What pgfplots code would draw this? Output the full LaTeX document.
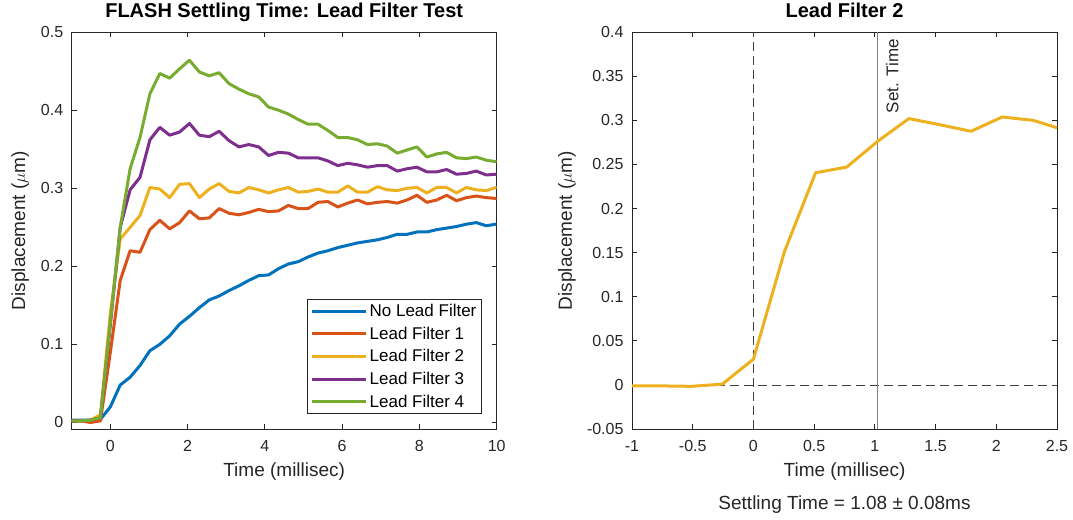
\documentclass[border=0pt]{standalone}
\usepackage{pgfplots}
\pgfplotsset{compat=1.18}
\usepackage{pgfplotstable}
\usepackage{fontspec}
\setmainfont{Liberation Sans}
\definecolor{mblue}{rgb}{0,0.447,0.741}
\definecolor{mred}{rgb}{0.85,0.325,0.098}
\definecolor{myellow}{rgb}{0.929,0.694,0.125}
\definecolor{mpurple}{rgb}{0.494,0.184,0.556}
\definecolor{mgreen}{rgb}{0.466,0.674,0.188}
\definecolor{axgray}{rgb}{0.15,0.15,0.15}

\pgfplotstableread{
t      nolead  f1     f2     f3     f4
-1.024 0.003   0.002  0.002  0.002  0.002
-0.768 0.003   0.002  0.002  0.002  0.002
-0.512 0.003   0.000  0.003  0.003  0.003
-0.256 0.004   0.002  0.010  0.006  0.006
0      0.020   0.090  0.140  0.125  0.128
0.256  0.048   0.182  0.235  0.250  0.250
0.512  0.058   0.220  0.250  0.298  0.325
0.768  0.073   0.218  0.265  0.314  0.365
1.024  0.092   0.247  0.301  0.362  0.421
1.28   0.100   0.259  0.299  0.378  0.447
1.536  0.111   0.248  0.288  0.368  0.441
1.792  0.126   0.256  0.305  0.372  0.453
2.048  0.136   0.271  0.306  0.383  0.464
2.304  0.147   0.261  0.288  0.368  0.449
2.56   0.157   0.262  0.299  0.366  0.444
2.816  0.162   0.274  0.306  0.373  0.448
3.072  0.169   0.268  0.296  0.361  0.434
3.328  0.175   0.266  0.294  0.353  0.427
3.584  0.182   0.269  0.301  0.356  0.421
3.84   0.188   0.273  0.298  0.353  0.417
4.096  0.189   0.270  0.294  0.342  0.404
4.352  0.197   0.271  0.298  0.346  0.400
4.608  0.203   0.278  0.301  0.345  0.395
4.864  0.206   0.274  0.295  0.339  0.388
5.12   0.212   0.274  0.296  0.339  0.382
5.376  0.217   0.282  0.299  0.339  0.382
5.632  0.220   0.283  0.295  0.335  0.374
5.888  0.224   0.276  0.295  0.329  0.365
6.144  0.227   0.281  0.303  0.332  0.365
6.4    0.230   0.285  0.295  0.330  0.362
6.656  0.232   0.280  0.295  0.327  0.356
6.912  0.234   0.282  0.302  0.329  0.357
7.168  0.237   0.283  0.298  0.329  0.354
7.424  0.241   0.281  0.297  0.322  0.345
7.68   0.241   0.285  0.300  0.325  0.349
7.936  0.244   0.291  0.301  0.327  0.353
8.192  0.244   0.282  0.294  0.321  0.340
8.448  0.247   0.285  0.301  0.321  0.344
8.704  0.249   0.291  0.301  0.324  0.346
8.96   0.251   0.284  0.294  0.318  0.339
9.216  0.254   0.288  0.301  0.319  0.338
9.472  0.256   0.290  0.298  0.322  0.340
9.728  0.252   0.288  0.297  0.317  0.336
9.984  0.254   0.287  0.301  0.318  0.334
10.24  0.255   0.287  0.300  0.318  0.333
}\leftdata

\pgfplotstableread{
t      y
-1.024 -0.001
-0.768 -0.001
-0.512 -0.0015
-0.256 0.001
0      0.0293
0.256  0.1515
0.512  0.2406
0.768  0.247
1.024  0.2763
1.28   0.302
1.536  0.295
1.792  0.2876
2.048  0.3038
2.304  0.300
2.56   0.289
}\rightdata

\pgfplotsset{mystyle/.style={
  scale only axis, width=425pt, height=397pt,
  axis line style={draw=axgray, line width=0.8pt},
  tick align=inside, major tick length=5pt,
  tick style={draw=axgray, line width=0.8pt},
  tick label style={font=\fontsize{16}{19}\selectfont, text=axgray},
  label style={font=\fontsize{19}{23}\selectfont, text=axgray},
  title style={font=\bfseries\fontsize{20}{24}\selectfont, text=black,
    at={(0.5,1)}, anchor=base, yshift=8.3pt},
  /pgf/number format/assume math mode=true,
  scaled ticks=false,
  yticklabel style={/pgf/number format/fixed, /pgf/number format/precision=2, xshift=-5pt},
  xticklabel style={/pgf/number format/fixed, /pgf/number format/precision=2, yshift=-8pt},
  xlabel style={at={(axis description cs:0.5,0)}, anchor=north, inner sep=0pt, yshift=-33.5pt},
  every axis plot/.append style={line width=3pt, line join=round},
}}

\begin{document}
\begin{tikzpicture}[x=1pt,y=1pt]
\path (0,0) rectangle (1073,519);
\begin{axis}[mystyle,
  at={(71.7pt,90.7pt)}, anchor=south west,
  xmin=-1, xmax=10, ymin=-0.0085, ymax=0.5,
  xtick={0,2,4,6,8,10}, ytick={0,0.1,0.2,0.3,0.4,0.5},
  title={FLASH Settling Time: Lead Filter Test},
  xlabel={Time (millisec)},
  ylabel={Displacement ($\mu$m)},
  ylabel style={at={(axis description cs:-0.0998,0.5)}, anchor=south, inner sep=0pt},
  legend cell align=left,
  legend image code/.code={\draw[#1, line width=3pt] (0pt,0pt) -- (54pt,0pt);},
  legend style={at={(0.965,0.038)}, anchor=south east, draw=axgray, line width=0.8pt,
    font=\fontsize{17}{20}\selectfont, row sep=4.8pt, inner sep=3pt},
]
\addplot[mblue] table[x=t,y=nolead] {\leftdata};
\addlegendentry{No Lead Filter}
\addplot[mred] table[x=t,y=f1] {\leftdata};
\addlegendentry{Lead Filter 1}
\addplot[myellow] table[x=t,y=f2] {\leftdata};
\addlegendentry{Lead Filter 2}
\addplot[mpurple] table[x=t,y=f3] {\leftdata};
\addlegendentry{Lead Filter 3}
\addplot[mgreen] table[x=t,y=f4] {\leftdata};
\addlegendentry{Lead Filter 4}
\end{axis}

\begin{axis}[mystyle,
  at={(632pt,90.7pt)}, anchor=south west,
  xmin=-1, xmax=2.5, ymin=-0.05, ymax=0.4,
  xtick={-1,-0.5,0,0.5,1,1.5,2,2.5},
  ytick={-0.05,0,0.05,0.1,0.15,0.2,0.25,0.3,0.35,0.4},
  title={Lead Filter 2},
  xlabel={Time (millisec)\\[10pt]Settling Time = 1.08 ± 0.08ms},
  xlabel style={align=center},
  ylabel={Displacement ($\mu$m)},
  ylabel style={at={(axis description cs:-0.1318,0.5)}, anchor=south, inner sep=0pt},
]
\addplot[black!75, line width=0.8pt, dash pattern=on 9pt off 5pt] coordinates {(-1,0) (2.5,0)};
\addplot[black!75, line width=0.8pt, dash pattern=on 9pt off 5pt] coordinates {(0,-0.05) (0,0.4)};
\addplot[black!50, line width=1.2pt] coordinates {(1.024,-0.05) (1.024,0.4)};
\addplot[myellow] table[x=t,y=y] {\rightdata};
\node[xshift=8pt, rotate=90, anchor=north east, inner sep=0pt, text=axgray, font=\fontsize{17}{20}\selectfont]
  at (axis cs:1.024,0.392) {Set. Time};
\end{axis}
\end{tikzpicture}
\end{document}
